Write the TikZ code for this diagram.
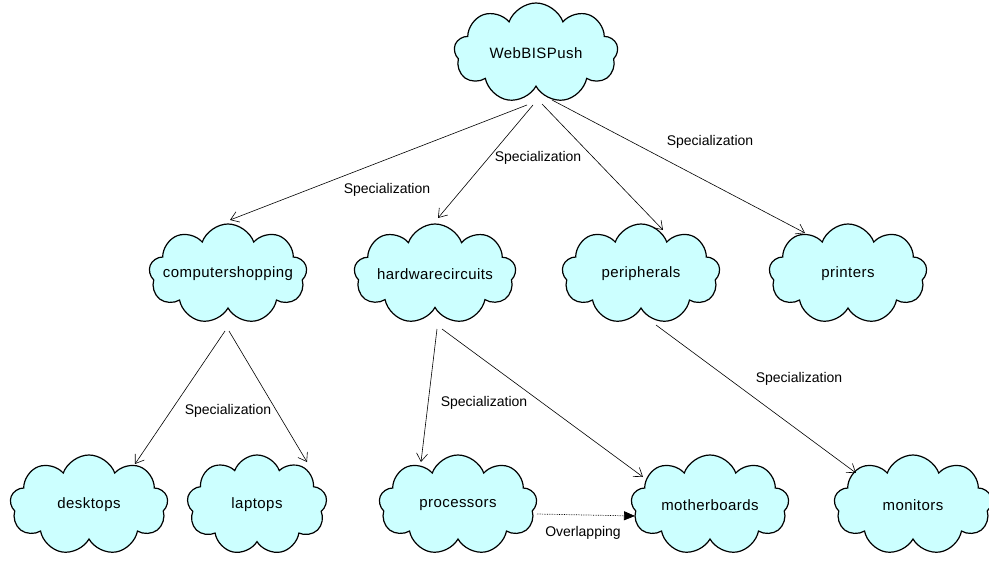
\documentclass[tikz,border=0pt]{standalone}
\usepackage{fontspec}
\setmainfont{Liberation Sans}
\newfontfamily\conceptfont[LetterSpace=3]{Liberation Sans}
\usetikzlibrary{shapes.symbols,arrows.meta,calc}
\definecolor{cloudfill}{HTML}{CCFFFF}
% concept names are centred without widening their cloud
\newcommand{\cname}[1]{\makebox[0pt][c]{#1}}
\tikzset{
  concept/.style={cloud, cloud puffs=9, cloud puff arc=140, cloud ignores aspect,
    draw=black, line width=1.2pt, fill=cloudfill, inner sep=0pt,
    minimum width=158pt, minimum height=100pt, font=\conceptfont\fontsize{15}{18}\selectfont},
  spec/.style={draw=black, line width=0.6pt, -{Straight Barb[length=8pt,width=11pt]}},
  overlap/.style={draw=black, line width=0.7pt, densely dotted, -{Triangle[length=11pt,width=9pt]}},
  lbl/.style={font=\fontsize{14}{17}\selectfont, inner sep=1pt}
}
\begin{document}
\begin{tikzpicture}[x=1pt,y=-1pt]
  \useasboundingbox (0,0) rectangle (989,567);

  % concepts
  \node[concept, minimum width=164pt] (web) at (536,53) {\cname{WebBISPush}};
  \node[concept] (cs)   at (228,274) {\cname{computershopping}};
  \node[concept, minimum width=162pt] (hw) at (435,274) {\cname{hardwarecircuits}};
  \node[concept] (per)  at (641,274) {\cname{peripherals}};
  \node[concept] (pr)   at (848,274) {\cname{printers}};
  \node[concept] (desk) at (89,505)  {\cname{desktops}};
  \node[concept, minimum width=140pt] (lap) at (257,505) {\cname{laptops}};
  \node[concept] (proc) at (458,505) {\cname{processors}};
  \node[concept] (mb)   at (710,505) {\cname{motherboards}};
  \node[concept] (mon)  at (913,505) {\cname{monitors}};

  % specialization links
  \draw[spec] ($(web.center)+(-9,52)$) -- ($(cs.center)+(2,-54)$);
  \draw[spec] ($(web.center)+(-3,52)$) -- ($(hw.center)+(3,-56)$);
  \draw[spec] ($(web.center)+(6,51)$)  -- ($(per.center)+(22,-44)$);
  \draw[spec] ($(web.center)+(16,47)$) -- ($(pr.center)+(-43,-41)$);
  \draw[spec] ($(cs.center)+(-3,57)$)  -- ($(desk.center)+(46,-41)$);
  \draw[spec] ($(cs.center)+(1,57)$)   -- ($(lap.center)+(50,-43)$);
  \draw[spec] ($(hw.center)+(2,55)$)   -- ($(proc.center)+(-37,-43)$);
  \draw[spec] ($(hw.center)+(7,55)$)   -- ($(mb.center)+(-67,-28)$);
  \draw[spec] ($(per.center)+(15,51)$) -- ($(mon.center)+(-57,-32)$);

  % overlapping link
  \draw[overlap] ($(proc.center)+(79,9)$) -- ($(mb.center)+(-75,11)$);

  % link labels
  \node[lbl] (l1) at (387,190) {Specialization};
  \node[lbl] (l2) at (538,158) {Specialization};
  \node[lbl] (l3) at (710,142) {Specialization};
  \node[lbl] (l4) at (228,411) {Specialization};
  \node[lbl] (l5) at (484,403) {Specialization};
  \node[lbl] (l6) at (799,379) {Specialization};
  \node[lbl] (l7) at (583,533) {Overlapping};
\end{tikzpicture}
\end{document}
